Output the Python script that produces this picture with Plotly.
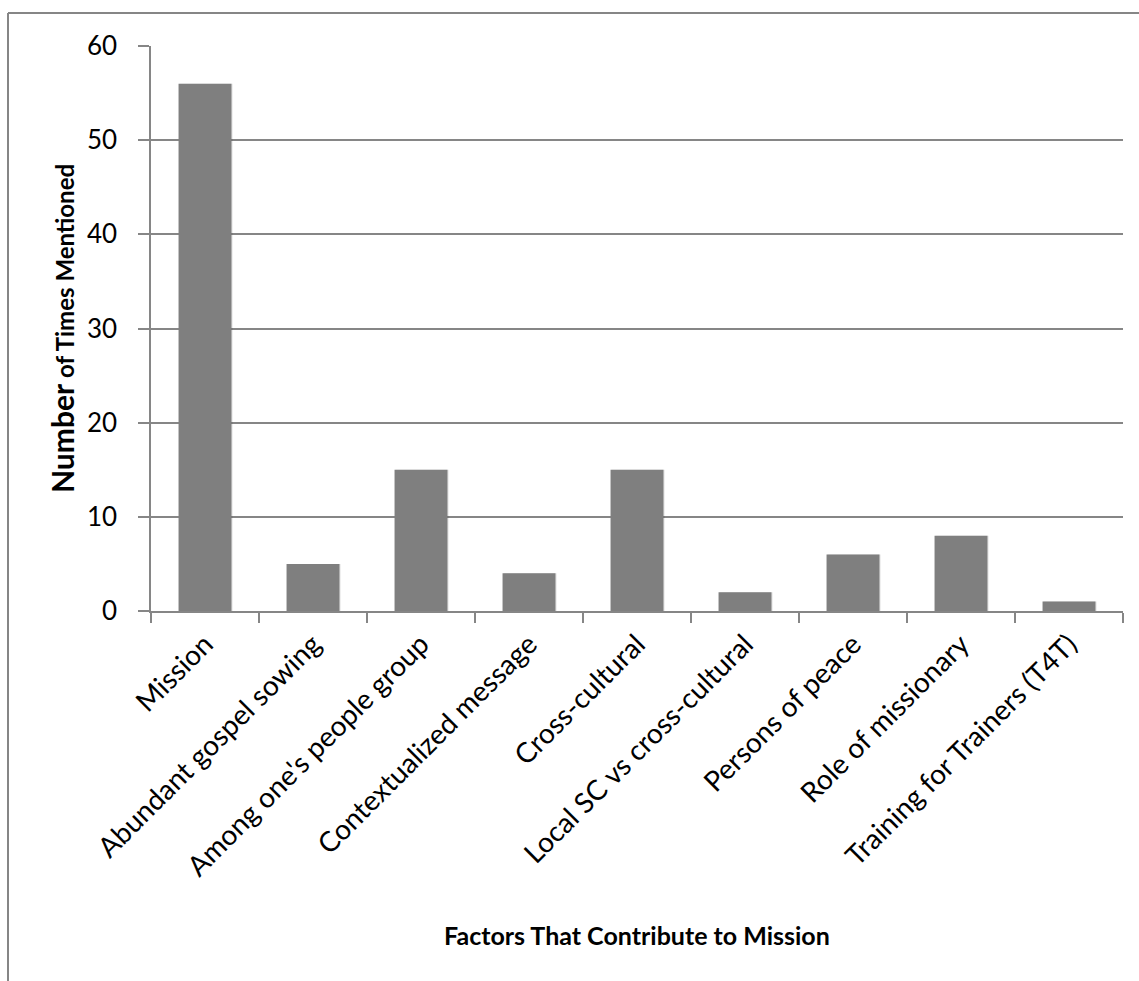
import plotly.graph_objects as go

# Factor categories and how often each was mentioned
categories = [
    "Mission",
    "Abundant gospel sowing",
    "Among one's people group",
    "Contextualized message",
    "Cross-cultural",
    "Local SC vs cross-cultural",
    "Persons of peace",
    "Role of missionary",
    "Training for Trainers (T4T)",
]
counts = [56, 5, 15, 4, 15, 2, 6, 8, 1]
y_ticks = [0, 10, 20, 30, 40, 50, 60]

W, H = 1139, 981
ML, MR, MT, MB = 151, 16, 46, 370
PW = W - ML - MR
PH = H - MT - MB

FONT = "Lato, 'Open Sans', sans-serif"
GRID = "#868686"

fig = go.Figure()

# soft drop shadow behind each bar
fig.add_trace(go.Bar(
    x=categories, y=counts, width=0.49, offset=-0.235,
    marker=dict(color="rgba(0,0,0,0.12)", line=dict(width=0)),
    hoverinfo="skip", showlegend=False,
))
fig.add_trace(go.Bar(
    x=categories, y=counts, width=0.49, offset=-0.245,
    marker=dict(color="#7f7f7f", line=dict(width=0)),
    showlegend=False,
))

fig.update_layout(
    width=W, height=H,
    margin=dict(l=ML, r=MR, t=MT, b=MB, autoexpand=False),
    paper_bgcolor="white", plot_bgcolor="white",
    barmode="overlay",
    font=dict(family=FONT, color="black"),
    xaxis=dict(
        type="category",
        showline=True, linecolor=GRID, linewidth=1.5,
        ticks="outside", tickson="boundaries", ticklen=10,
        tickcolor=GRID, tickwidth=1.5,
        tickangle=-45, tickfont=dict(family=FONT, size=28, color="black"),
        ticklabelstandoff=4,
        showgrid=False,
    ),
    yaxis=dict(
        range=[0, 60], tickvals=y_ticks,
        showgrid=True, gridcolor=GRID, gridwidth=1.5,
        showline=True, linecolor=GRID, linewidth=1.5,
        ticks="outside", ticklen=11, tickcolor=GRID, tickwidth=1.5,
        tickfont=dict(family=FONT, size=26, color="black"),
        ticklabelstandoff=16,
        zeroline=False,
    ),
    annotations=[
        dict(
            text="<b>Factors That Contribute to Mission</b>",
            xref="paper", yref="paper",
            x=0.5, y=-(935 - (MT + PH)) / PH,
            xanchor="center", yanchor="middle", showarrow=False,
            font=dict(family=FONT, size=25, color="black"),
        ),
        dict(
            text="<b><span style='font-size:30px'>Number</span> of Times Mentioned</b>",
            xref="paper", yref="paper",
            x=(62 - ML) / PW, y=1 - (329 - MT) / PH,
            xanchor="center", yanchor="middle", showarrow=False,
            textangle=-90,
            font=dict(family=FONT, size=24, color="black"),
        ),
    ],
    shapes=[
        # chart frame: left and top edges
        dict(type="line", xref="paper", yref="paper",
             x0=(8 - ML) / PW, x1=(8 - ML) / PW,
             y0=1 + (MT - 13) / PH, y1=-(H - MT - PH + 5) / PH,
             line=dict(color=GRID, width=2)),
        dict(type="line", xref="paper", yref="paper",
             x0=(8 - ML) / PW, x1=(W + 5 - ML) / PW,
             y0=1 + (MT - 13) / PH, y1=1 + (MT - 13) / PH,
             line=dict(color=GRID, width=2)),
    ],
)

fig.write_html("out.html")
